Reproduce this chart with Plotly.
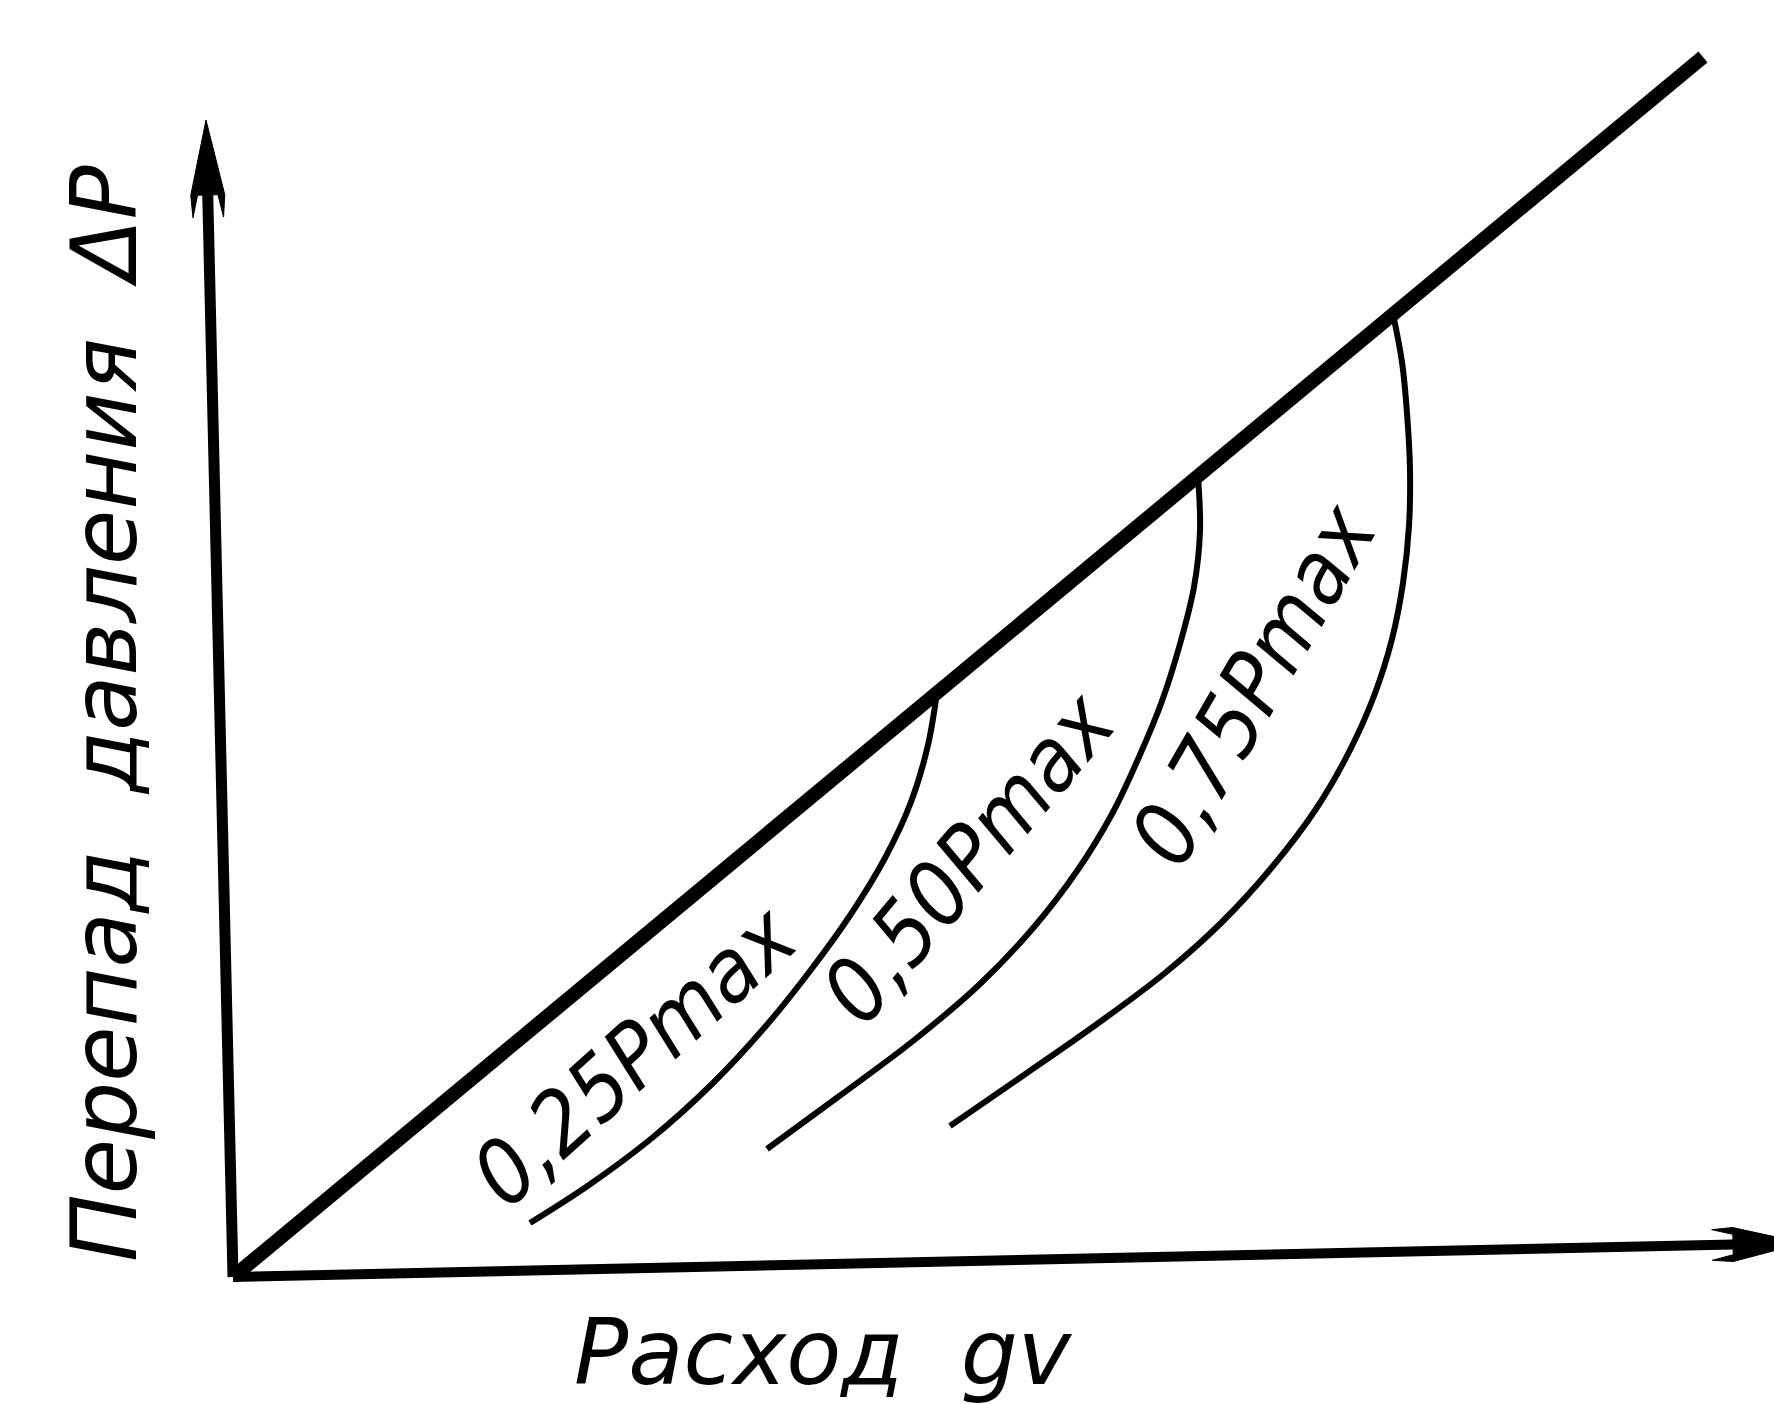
import plotly.graph_objects as go
import numpy as np

# ---- data (chart units: flow gv along x, pressure drop dP along y) ----
main_q = [0.0, 147.0]
main_dp = [0.0, 122.0]

x_axis_q = [0.0, 157.0]
x_axis_dp = [0.0, 3.4]
y_axis_q = [0.0, -2.7]
y_axis_dp = [0.0, 115.7]

c25_q = [70.4, 69.5, 67.8, 65.2, 61.8, 57.7, 53.2, 47.9, 41.9, 35.6, 29.7]
c25_dp = [58.5, 53.2, 47.5, 41.9, 36.3, 30.6, 25.0, 19.3, 13.9, 9.2, 5.4]

c50_q = [96.5, 96.7, 96.1, 94.7, 92.9, 90.6, 87.9, 84.4, 80.1, 74.7, 68.0, 60.5, 53.4]
c50_dp = [80.0, 74.6, 69.0, 63.3, 57.6, 52.0, 46.3, 40.6, 35.0, 29.3, 23.6, 18.0, 12.8]

c75_q = [116.1, 116.9, 117.4, 117.7, 117.6, 117.0, 115.9, 114.1, 111.6, 108.3, 104.0, 98.9,
         93.2, 86.4, 79.1, 71.7]
c75_dp = [95.8, 91.5, 86.4, 80.7, 75.1, 69.4, 63.8, 58.1, 52.5, 46.8, 41.1, 35.5,
          30.4, 25.3, 20.2, 15.1]

curve_labels = ["0,25Pmax", "0,50Pmax", "0,75Pmax"]
x_title = "Расход  gv"
y_title = "Перепад  давления  ΔP"

FONT_LBL = "DejaVu Sans Condensed, DejaVu Sans, sans-serif"
FONT_TTL = "DejaVu Sans, sans-serif"
BLACK = "#000000"

fig = go.Figure()


def line(xs, ys, w, shape="linear"):
    fig.add_trace(go.Scatter(x=xs, y=ys, mode="lines",
                             line=dict(color=BLACK, width=w, shape=shape, smoothing=1.0),
                             hoverinfo="skip", showlegend=False))


def arrow_head(xs, ys, length, half_w, shaft_w):
    # head built from the axis end point and direction
    p0 = np.array([xs[0], ys[0]])
    p1 = np.array([xs[-1], ys[-1]])
    d = (p1 - p0) / np.linalg.norm(p1 - p0)
    n = np.array([-d[1], d[0]])
    base = p1 - d * length
    line([p0[0], base[0]], [p0[1], base[1]], shaft_w)
    barb = base - d * length * 0.3
    pts = [p1, base + n * half_w, barb + n * half_w * 0.9, base + n * half_w * 0.6,
           base - n * half_w * 0.6, barb - n * half_w * 0.9, base - n * half_w, p1]
    fig.add_trace(go.Scatter(x=[p[0] for p in pts], y=[p[1] for p in pts], mode="lines",
                             fill="toself", fillcolor=BLACK,
                             line=dict(color=BLACK, width=1),
                             hoverinfo="skip", showlegend=False))


arrow_head(y_axis_q, y_axis_dp, 7.5, 1.7, 11)
arrow_head(x_axis_q, x_axis_dp, 7.0, 1.7, 10)

line(main_q, main_dp, 14)
line(c25_q, c25_dp, 6, "spline")
line(c50_q, c50_dp, 6, "spline")
line(c75_q, c75_dp, 6, "spline")

label_pos = [(40.1, 22.2, -42), (73.5, 42.0, -50), (102.0, 59.3, -60)]
for txt, (lx, ly, ang) in zip(curve_labels, label_pos):
    fig.add_annotation(x=lx, y=ly, xref="x", yref="y", text=txt, showarrow=False,
                       textangle=ang,
                       font=dict(family=FONT_LBL, size=88, color=BLACK, style="italic"))

fig.add_annotation(x=59.0, y=-7.5, xref="x", yref="y", text=x_title, showarrow=False,
                   borderpad=0,
                   font=dict(family=FONT_TTL, size=90, color=BLACK, style="italic"))
fig.add_annotation(x=-12.9, y=56.4, xref="x", yref="y", text=y_title, showarrow=False,
                   textangle=-90,
                   font=dict(family=FONT_TTL, size=90, color=BLACK, style="italic"))

fig.update_layout(
    width=1774, height=1404,
    margin=dict(l=0, r=0, t=0, b=0),
    paper_bgcolor="white", plot_bgcolor="white",
    xaxis=dict(range=[-23.3, 154.1], visible=False, fixedrange=True),
    yaxis=dict(range=[-12.7, 127.7], visible=False, fixedrange=True),
)

fig.write_html("out.html", config={"displayModeBar": False},
               post_script="document.body.style.margin='0';")
